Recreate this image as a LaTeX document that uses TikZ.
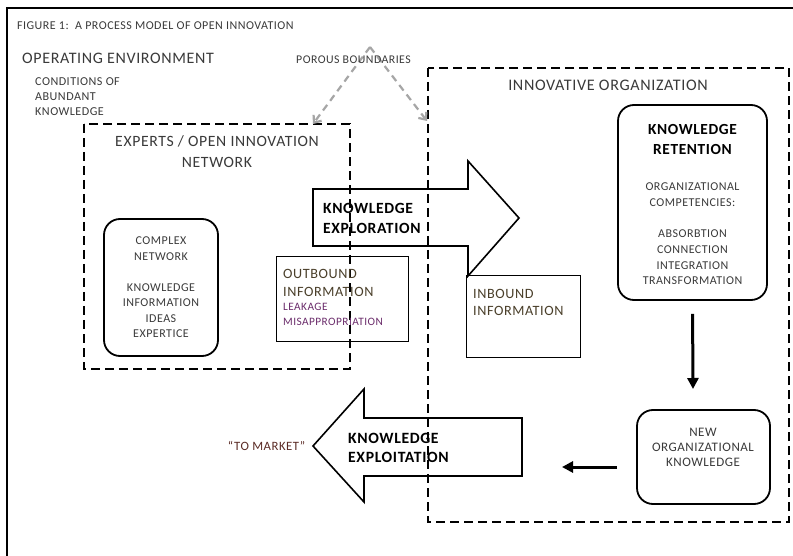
\documentclass[tikz,border=0pt]{standalone}
\usepackage{fontspec}
\setmainfont[LetterSpace=4]{Carlito}
\usetikzlibrary{arrows.meta}
\definecolor{txt}{HTML}{3A3A3A}
\definecolor{olivetxt}{HTML}{4A3F2A}
\definecolor{purpletxt}{HTML}{6B2C6B}
\definecolor{redtxt}{HTML}{5A2A24}
\definecolor{porousgray}{HTML}{A6A6A6}
\newcommand{\fs}[2]{\fontsize{#1}{#2}\selectfont}
\begin{document}
\begin{tikzpicture}[x=1pt,y=-1pt,
  dashbox/.style={draw=black, line width=1.9pt, dash pattern=on 9pt off 5pt},
  roundbox/.style={draw=black, line width=1.8pt, rounded corners=16pt, fill=white},
  plainbox/.style={draw=black, line width=1pt, fill=white},
  blockarrow/.style={draw=black, line width=1.6pt, fill=white, line join=miter},
  porous/.style={draw=porousgray, line width=2.2pt, dash pattern=on 7pt off 5pt, -{Straight Barb[length=6pt,width=10pt]}},
  thickarrow/.style={line width=3pt, -{Triangle[length=11pt,width=11pt]}},
  lbl/.style={text=txt, inner sep=0pt},
]
\useasboundingbox (0,0) rectangle (793,556);
\fill[white] (0,0) rectangle (793,556);
% outer frame
\draw[line width=2.5pt] (7,556) -- (7,8) -- (793,8);

% boxes
\node[roundbox, minimum width=114pt, minimum height=137pt] (cn) at (161,287.5) {};
\node[roundbox, minimum width=149pt, minimum height=195pt] (ret) at (692.5,202.5) {};
\node[roundbox, minimum width=133pt, minimum height=94pt] (neworg) at (703.5,457) {};
\node[plainbox, minimum width=132pt, minimum height=84pt] (outb) at (342,299) {};
\node[plainbox, minimum width=114pt, minimum height=81pt] (inb) at (523,316.5) {};

% block arrows
\draw[blockarrow] (313,189) -- (468,189) -- (468,161) -- (519,218) -- (468,276) -- (468,246) -- (313,246) -- cycle;
\draw[blockarrow] (522,418) -- (364,418) -- (364,389) -- (313,446) -- (364,502) -- (364,476) -- (522,476) -- cycle;

% dashed boundaries
\draw[dashbox] (84,124) rectangle (350,369);
\draw[dashbox] (428,68) rectangle (789,522);

% porous boundaries arrows
\coordinate (apex) at (370,47);
\coordinate (pl) at (313,124);
\coordinate (pr) at (427,121);
\draw[porous] (apex) -- (pl);
\draw[porous] (apex) -- (pr);

% thick arrows
\coordinate (downend) at (693,389);
\draw[thickarrow, shorten <=13pt] (ret.south) -- (downend);
\coordinate (lstart) at (617,467);
\coordinate (lend) at (562,467);
\draw[thickarrow] (lstart) -- (lend);

% texts
\node[lbl, anchor=west, font=\fs{12}{14}] (title) at (17,26) {FIGURE 1:\ \ A PROCESS MODEL OF OPEN INNOVATION};
\node[lbl, anchor=west, font=\fs{16}{18}] (openv) at (22,58) {OPERATING ENVIRONMENT};
\node[lbl, anchor=west, align=left, font=\fs{12.1}{15}] (cond) at (35,97) {CONDITIONS OF\\ABUNDANT\\KNOWLEDGE};
\node[lbl, anchor=west, font=\fs{11.8}{13}] (porl) at (296,60) {POROUS BOUNDARIES};
\node[lbl, align=center, font=\fs{15.7}{21}] (exp) at (217,151.5) {EXPERTS / OPEN INNOVATION\\NETWORK};
\node[lbl, font=\fs{16.1}{17}] (innov) at (608,85) {INNOVATIVE ORGANIZATION};
\node[lbl, align=center, font=\fs{12}{15.5}] (cntext) at (cn.center) {COMPLEX\\NETWORK\\[15.5pt]KNOWLEDGE\\INFORMATION\\IDEAS\\EXPERTICE};
\node[lbl, anchor=west, align=left, text=black, font=\bfseries\fs{15.6}{20}] (explor) at (323,218) {KNOWLEDGE\\EXPLORATION};
\node[lbl, anchor=west, align=left, text=olivetxt, font=\fs{14.2}{18}] (outt) at (283,283) {OUTBOUND\\INFORMATION};
\node[lbl, anchor=west, align=left, text=purpletxt, font=\fs{11.3}{15}] (leak) at (283,314.5) {LEAKAGE\\MISAPPROPRIATION};
\node[lbl, anchor=west, align=left, text=olivetxt, font=\fs{14.2}{17}] (inbt) at (473,302.5) {INBOUND\\INFORMATION};
\node[lbl, align=center, text=black, font=\bfseries\fs{15.4}{20}] (rett) at (692.5,140) {KNOWLEDGE\\RETENTION};
\node[lbl, align=center, font=\fs{12}{16}] (comp) at (692.5,195) {ORGANIZATIONAL\\COMPETENCIES:};
\node[lbl, align=center, font=\fs{12}{15.6}] (abs) at (692.5,257.5) {ABSORBTION\\CONNECTION\\INTEGRATION\\TRANSFORMATION};
\node[lbl, align=center, font=\fs{13}{15}] (newt) at (703,447) {NEW\\ORGANIZATIONAL\\KNOWLEDGE};
\node[lbl, anchor=west, align=left, text=black, font=\bfseries\fs{15.7}{19}] (exploit) at (348,447.5) {KNOWLEDGE\\EXPLOITATION};
\node[lbl, text=redtxt, font=\fs{12.7}{14}] (market) at (266.5,446) {“TO MARKET”};
\end{tikzpicture}
\end{document}
